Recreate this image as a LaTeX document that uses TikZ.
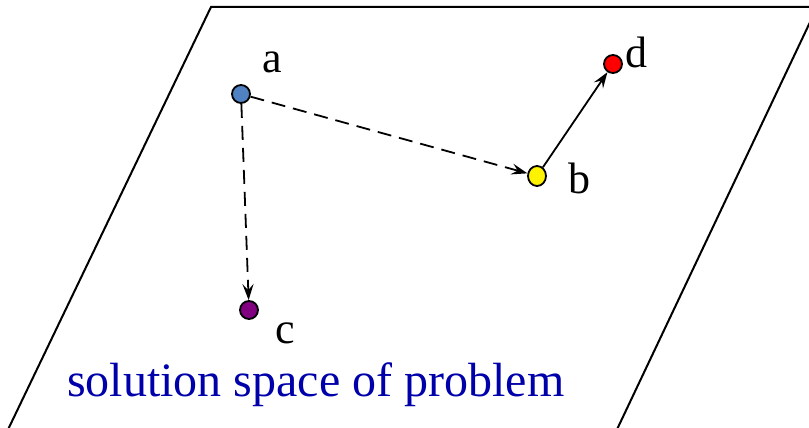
\documentclass[tikz,border=0pt]{standalone}
\usepackage{fontspec}
\setmainfont{Liberation Serif}
\usetikzlibrary{arrows.meta,shapes.geometric}
\definecolor{ptblue}{RGB}{80,130,195}
\definecolor{ptpurple}{RGB}{128,0,128}
\definecolor{txtblue}{RGB}{0,0,170}
\tikzset{
  pt/.style={circle,draw=black,line width=1.8pt,inner sep=0pt,minimum size=18pt},
  lbl/.style={anchor=base west,inner sep=0pt,font=\fontsize{44}{44}\selectfont},
  conn/.style={line width=1.8pt,-{Stealth[length=16pt,width=11pt,inset=6pt]},shorten >=0pt},
  dsh/.style={dash pattern=on 14pt off 8pt}
}
\begin{document}
\begin{tikzpicture}[x=1pt,y=-1pt]
\useasboundingbox (0,0) rectangle (809,428);
\draw[line width=2pt] (3,440) -- (211,7) -- (830,7);
\draw[line width=2pt] (830,-20) -- (612,440);
\node[pt,fill=ptblue] (a) at (241,94) {};
\node[ellipse,draw=black,line width=1.8pt,inner sep=0pt,fill=yellow,minimum width=18pt,minimum height=20pt] (b) at (537,176) {};
\node[pt,fill=red] (d) at (613,64) {};
\node[pt,fill=ptpurple] (c) at (249,310) {};
\node[lbl] (la) at (262,73) {a};
\node[lbl] (lb) at (568,193) {b};
\node[lbl] (lc) at (275,343) {c};
\node[lbl] (ld) at (625,67) {d};
\node[anchor=base west,inner sep=0pt,text=txtblue,font=\fontsize{48}{48}\selectfont] (t) at (67,396) {solution space of problem};
\draw[conn,dsh] (a) -- (b);
\draw[conn,dsh] (a) -- (c);
\draw[conn] (b) -- (d);
\end{tikzpicture}
\end{document}
